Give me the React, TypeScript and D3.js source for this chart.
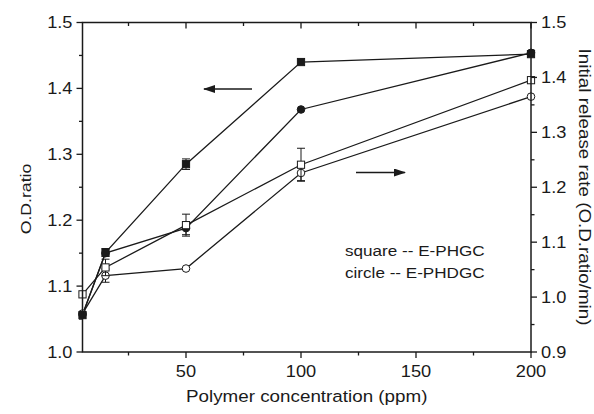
import React from "react";
import * as d3 from "d3";

// polymer concentration (ppm)
const conc = [5, 15, 50, 100, 200];

// left axis: O.D. ratio (filled markers)
const phgcRatio = [1.056, 1.151, 1.285, 1.44, 1.452];
const phgcRatioErr = [0, 0.006, 0.008, 0, 0];
const phdgcRatio = [1.057, 1.15, 1.188, 1.368, 1.454];
const phdgcRatioErr = [0, 0, 0.01, 0, 0];

// right axis: initial release rate (open markers)
const phgcRate = [1.005, 1.054, 1.131, 1.241, 1.395];
const phgcRateErr = [0, 0.015, 0.02, 0.03, 0];
const phdgcRate = [0.97, 1.039, 1.052, 1.226, 1.365];
const phdgcRateErr = [0, 0.012, 0, 0.014, 0];

const xTicks = [50, 100, 150, 200];
const leftTicks = [1.0, 1.1, 1.2, 1.3, 1.4, 1.5];
const rightTicks = [0.9, 1.0, 1.1, 1.2, 1.3, 1.4, 1.5];

const W = 594, H = 414;
const m = { left: 82.5, right: 531, top: 22.5, bottom: 352 };
const font = "'Liberation Sans', Arial, sans-serif";
const ink = "#1a1a1a";
const SX = 1.14; // the source lettering is a little wider than Arial

function Txt({ x, y, size, anchor = "start", rotate = 0, children }: any) {
  return (
    <text
      transform={`translate(${x},${y}) rotate(${rotate}) scale(${SX},1)`}
      textAnchor={anchor}
      fontSize={size}
      fill={ink}
    >
      {children}
    </text>
  );
}

export default function App() {
  const x = d3.scaleLinear().domain([5, 200]).range([m.left, m.right]);
  const yL = d3.scaleLinear().domain([1.0, 1.5]).range([m.bottom, m.top]);
  const yR = d3.scaleLinear().domain([0.9, 1.5]).range([m.bottom, m.top]);
  const line = d3.line<[number, number]>();

  // drawing order matters for which marker sits on top
  const series = [
    { vals: phdgcRatio, err: phdgcRatioErr, y: yL, shape: "circle", fill: ink },
    { vals: phdgcRate, err: phdgcRateErr, y: yR, shape: "circle", fill: "#fff" },
    { vals: phgcRate, err: phgcRateErr, y: yR, shape: "square", fill: "#fff" },
    { vals: phgcRatio, err: phgcRatioErr, y: yL, shape: "square", fill: ink },
  ];

  const xMinor = d3.range(25, 200, 50);
  const lMinor = d3.range(1.05, 1.5, 0.1);
  const rMinor = d3.range(0.95, 1.5, 0.1);

  return (
    <svg width={W} height={H} style={{ position: "absolute", left: 0, top: 0, background: "#fff" }} fontFamily={font}>
      <defs>
        <marker id="ah" markerWidth="12" markerHeight="8" refX="11" refY="4" orient="auto" markerUnits="userSpaceOnUse">
          <path d="M0,0 L12,4 L0,8 Z" fill={ink} />
        </marker>
      </defs>

      {/* lines */}
      {series.map((s, i) => (
        <path key={"l" + i} d={line(conc.map((c, j) => [x(c), s.y(s.vals[j])]))!} fill="none" stroke={ink} strokeWidth={1.3} />
      ))}

      {/* error bars + markers */}
      {series.map((s, i) =>
        conc.map((c, j) => {
          const cx = x(c), cy = s.y(s.vals[j]);
          const lo = s.y(s.vals[j] - s.err[j]), hi = s.y(s.vals[j] + s.err[j]);
          return (
            <g key={"m" + i + j}>
              {s.err[j] > 0 && (
                <g stroke={ink} strokeWidth={1}>
                  <line x1={cx} x2={cx} y1={lo} y2={hi} />
                  <line x1={cx - 4} x2={cx + 4} y1={lo} y2={lo} />
                  <line x1={cx - 4} x2={cx + 4} y1={hi} y2={hi} />
                </g>
              )}
              {s.shape === "square" ? (
                <rect x={cx - 3.6} y={cy - 3.6} width={7.2} height={7.2} fill={s.fill} stroke={ink} strokeWidth={1} />
              ) : (
                <circle cx={cx} cy={cy} r={3.8} fill={s.fill} stroke={ink} strokeWidth={1} />
              )}
            </g>
          );
        })
      )}

      {/* frame */}
      <rect x={m.left} y={m.top} width={m.right - m.left} height={m.bottom - m.top} fill="none" stroke={ink} strokeWidth={1.5} />

      {/* bottom axis + top mirror ticks */}
      {xTicks.map((t) => (
        <g key={"xt" + t}>
          <line x1={x(t)} x2={x(t)} y1={m.bottom} y2={m.bottom + 6} stroke={ink} strokeWidth={1.3} />
          <line x1={x(t)} x2={x(t)} y1={m.top} y2={m.top + 6} stroke={ink} strokeWidth={1.3} />
          <Txt x={x(t)} y={m.bottom + 25} size={16} anchor="middle">{t}</Txt>
        </g>
      ))}
      {xMinor.map((t) => (
        <g key={"xm" + t}>
          <line x1={x(t)} x2={x(t)} y1={m.bottom} y2={m.bottom + 3.5} stroke={ink} strokeWidth={1.3} />
          <line x1={x(t)} x2={x(t)} y1={m.top} y2={m.top + 3.5} stroke={ink} strokeWidth={1.3} />
        </g>
      ))}

      {/* left axis */}
      {leftTicks.map((t) => (
        <g key={"lt" + t}>
          <line x1={m.left - 6} x2={m.left} y1={yL(t)} y2={yL(t)} stroke={ink} strokeWidth={1.3} />
          <Txt x={m.left - 10} y={yL(t) + 5.5} size={16} anchor="end">{t.toFixed(1)}</Txt>
        </g>
      ))}
      {lMinor.map((t) => (
        <line key={"lm" + t} x1={m.left - 3.5} x2={m.left} y1={yL(t)} y2={yL(t)} stroke={ink} strokeWidth={1.3} />
      ))}

      {/* right axis */}
      {rightTicks.map((t) => (
        <g key={"rt" + t}>
          <line x1={m.right} x2={m.right + 6} y1={yR(t)} y2={yR(t)} stroke={ink} strokeWidth={1.3} />
          <Txt x={m.right + 10} y={yR(t) + 5.5} size={16}>{t.toFixed(1)}</Txt>
        </g>
      ))}
      {rMinor.map((t) => (
        <line key={"rm" + t} x1={m.right} x2={m.right + 3.5} y1={yR(t)} y2={yR(t)} stroke={ink} strokeWidth={1.3} />
      ))}

      {/* titles */}
      <Txt x={(m.left + m.right) / 2} y={402} size={16.5} anchor="middle">Polymer concentration (ppm)</Txt>
      <Txt x={31} y={199} size={15.5} anchor="middle" rotate={-90}>O.D.ratio</Txt>
      <Txt x={579} y={187} size={16.5} anchor="middle" rotate={90}>Initial release rate (O.D.ratio/min)</Txt>

      {/* legend */}
      <Txt x={345} y={256} size={15}>square -- E-PHGC</Txt>
      <Txt x={345} y={278} size={15}>circle -- E-PHDGC</Txt>

      {/* arrows */}
      <line x1={252} x2={204} y1={89} y2={89} stroke={ink} strokeWidth={1.5} markerEnd="url(#ah)" />
      <line x1={356} x2={405} y1={172.5} y2={172.5} stroke={ink} strokeWidth={1.5} markerEnd="url(#ah)" />
    </svg>
  );
}
